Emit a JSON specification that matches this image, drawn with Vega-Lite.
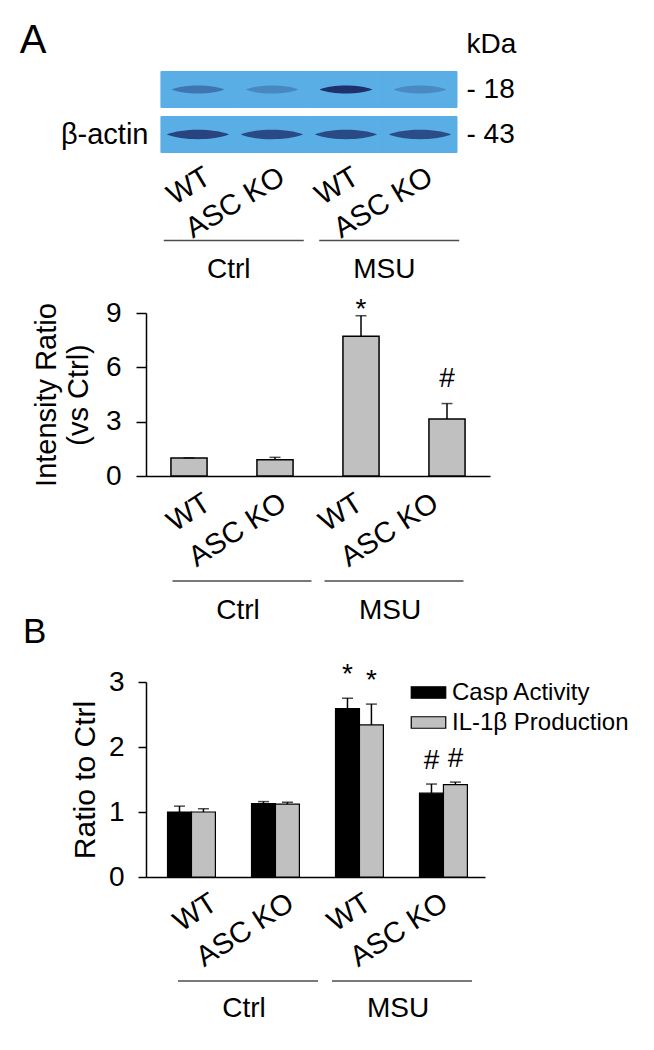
{
  "$schema": "https://vega.github.io/schema/vega-lite/v6.json",
  "padding": {"left": 19, "top": 20, "right": 5, "bottom": 5},
  "background": "white",
  "spacing": 11,
  "resolve": {"legend": {"fill": "independent"}},
  "config": {
    "font": "Liberation Sans",
    "view": {"stroke": null},
    "axis": {"domainColor": "black", "domainWidth": 1.5, "tickColor": "black", "tickWidth": 1.5, "labelColor": "black", "titleColor": "black", "labelFont": "Liberation Sans", "titleFont": "Liberation Sans", "titleFontWeight": "normal", "grid": false},
    "text": {"font": "Liberation Sans", "color": "black"},
    "title": {"font": "Liberation Sans", "fontWeight": "normal", "color": "black"}
  },
  "vconcat": [
    {
      "width": 311,
      "height": 135,
      "layer": [
        {
          "data": {"values": [
            {"lane": "Ctrl|WT", "protein": "target", "intensity": 0.45},
            {"lane": "Ctrl|ASC KO", "protein": "target", "intensity": 0.3},
            {"lane": "MSU|WT", "protein": "target", "intensity": 1.0},
            {"lane": "MSU|ASC KO", "protein": "target", "intensity": 0.28},
            {"lane": "Ctrl|WT", "protein": "β-actin", "intensity": 0.85},
            {"lane": "Ctrl|ASC KO", "protein": "β-actin", "intensity": 0.8},
            {"lane": "MSU|WT", "protein": "β-actin", "intensity": 0.8},
            {"lane": "MSU|ASC KO", "protein": "β-actin", "intensity": 0.78}
          ]},
          "layer": [
            {
              "mark": {"type": "rect", "fill": "#5aaee6", "stroke": "#5aaee6", "strokeWidth": 1},
              "encoding": {
                "x": {"field": "lane", "type": "nominal", "sort": ["Ctrl|WT", "Ctrl|ASC KO", "MSU|WT", "MSU|ASC KO"],
                      "scale": {"paddingInner": 0, "paddingOuter": 0.101, "align": 1},
                      "axis": {"title": null, "labelExpr": "split(datum.value,'|')[1]", "labelAngle": -31, "labelAlign": "right", "labelBaseline": "top", "labelOffset": 3, "labelPadding": 5, "labelFontSize": 29, "ticks": false, "domain": false}},
                "y": {"field": "protein", "type": "nominal",
                      "scale": {"domain": ["kDa", "target", "β-actin"], "paddingInner": 0.2, "paddingOuter": 0.1},
                      "axis": {"orient": "left", "title": null, "labelExpr": "datum.value == 'β-actin' ? 'β-actin' : ''", "labelFontSize": 29, "ticks": false, "domain": false, "labelPadding": -2}}
              }
            },
            {
              "mark": {"type": "point", "shape": "M-1,0C-0.5,-0.2 0.5,-0.2 1,0C0.5,0.2 -0.5,0.2 -1,0Z", "filled": true, "color": "#1c2a66"},
              "encoding": {
                "x": {"field": "lane", "type": "nominal", "sort": ["Ctrl|WT", "Ctrl|ASC KO", "MSU|WT", "MSU|ASC KO"]},
                "y": {"field": "protein", "type": "nominal",
                      "axis": {"orient": "right", "title": null, "labelExpr": "datum.value == 'kDa' ? 'kDa' : datum.value == 'target' ? '- 18' : '- 43'", "labelFontSize": 28, "ticks": false, "domain": false, "labelPadding": 9}},
                "opacity": {"field": "intensity", "type": "quantitative", "scale": {"domain": [0, 1], "range": [0, 0.95]}, "legend": null},
                "size": {"field": "protein", "type": "nominal", "scale": {"domain": ["target", "β-actin"], "range": [2800, 3900]}, "legend": null}
              }
            }
          ],
          "resolve": {"axis": {"y": "independent"}}
        },
        {
          "data": {"values": [{"group": "Ctrl"}, {"group": "MSU"}]},
          "layer": [
            {
              "mark": {"type": "tick", "size": 140, "thickness": 1.5, "color": "black", "xOffset": 10},
              "encoding": {
                "x": {"field": "group", "type": "nominal", "scale": {"type": "band", "paddingInner": 0, "paddingOuter": 0}, "axis": null},
                "y": {"datum": -0.6185, "type": "quantitative", "scale": {"domain": [0, 1]}, "axis": null}
              }
            },
            {
              "mark": {"type": "text", "fontSize": 28, "dx": 5, "baseline": "middle"},
              "encoding": {
                "x": {"field": "group", "type": "nominal", "axis": null},
                "y": {"datum": -0.837, "type": "quantitative", "axis": null},
                "text": {"field": "group"}
              }
            },
            {
              "data": {"values": [{"panel": "A", "group": "Ctrl"}]},
              "mark": {"type": "text", "fontSize": 40, "baseline": "alphabetic", "align": "left", "dx": -204},
              "encoding": {
                "x": {"field": "group", "type": "nominal", "axis": null},
                "y": {"datum": 0.774, "type": "quantitative", "axis": null},
                "text": {"field": "panel"}
              }
            }
          ]
        }
      ],
      "resolve": {"scale": {"x": "independent", "y": "independent"}}
    },
    {
      "width": 344,
      "height": 163,
      "layer": [
        {
          "data": {"values": [
            {"lane": "Ctrl|WT", "value": 1.0, "upper": 1.0, "sig": ""},
            {"lane": "Ctrl|ASC KO", "value": 0.9, "upper": 1.03, "sig": ""},
            {"lane": "MSU|WT", "value": 7.72, "upper": 8.85, "sig": "*"},
            {"lane": "MSU|ASC KO", "value": 3.15, "upper": 4.0, "sig": "#"}
          ]},
          "layer": [
            {
              "mark": {"type": "bar", "fill": "#c0c0c0", "stroke": "black", "strokeWidth": 1.5},
              "encoding": {
                "x": {"field": "lane", "type": "nominal", "sort": ["Ctrl|WT", "Ctrl|ASC KO", "MSU|WT", "MSU|ASC KO"],
                      "scale": {"paddingInner": 0.58, "paddingOuter": 0.29},
                      "axis": {"title": null, "labels": false, "ticks": false, "domain": true}},
                "y": {"field": "value", "type": "quantitative", "scale": {"domain": [0, 9]},
                      "axis": {"title": ["Intensity Ratio", "(vs Ctrl)"], "values": [0, 3, 6, 9], "tickSize": 10, "labelFontSize": 28, "labelPadding": 15, "titleFontSize": 29, "titleLineHeight": 32, "titlePadding": 12}}
              }
            },
            {
              "mark": {"type": "rule", "color": "black", "strokeWidth": 1.5},
              "encoding": {
                "x": {"field": "lane", "type": "nominal", "sort": ["Ctrl|WT", "Ctrl|ASC KO", "MSU|WT", "MSU|ASC KO"]},
                "y": {"field": "value", "type": "quantitative"},
                "y2": {"field": "upper"}
              }
            },
            {
              "mark": {"type": "tick", "color": "black", "thickness": 1.5, "size": 11},
              "encoding": {
                "x": {"field": "lane", "type": "nominal", "sort": ["Ctrl|WT", "Ctrl|ASC KO", "MSU|WT", "MSU|ASC KO"]},
                "y": {"field": "upper", "type": "quantitative"}
              }
            },
            {
              "transform": [{"filter": "datum.sig == '*'"}],
              "mark": {"type": "text", "fontSize": 28, "baseline": "alphabetic", "dy": 2},
              "encoding": {
                "x": {"field": "lane", "type": "nominal", "sort": ["Ctrl|WT", "Ctrl|ASC KO", "MSU|WT", "MSU|ASC KO"]},
                "y": {"field": "upper", "type": "quantitative"},
                "text": {"field": "sig"}
              }
            },
            {
              "transform": [{"filter": "datum.sig == '#'"}],
              "mark": {"type": "text", "fontSize": 28, "baseline": "alphabetic", "dy": -17},
              "encoding": {
                "x": {"field": "lane", "type": "nominal", "sort": ["Ctrl|WT", "Ctrl|ASC KO", "MSU|WT", "MSU|ASC KO"]},
                "y": {"field": "upper", "type": "quantitative"},
                "text": {"field": "sig"}
              }
            }
          ]
        },
        {
          "data": {"values": [{"lane": "Ctrl|ASC KO", "group": "Ctrl"}, {"lane": "MSU|ASC KO", "group": "MSU"}]},
          "layer": [
            {
              "mark": {"type": "tick", "size": 139, "thickness": 1.5, "color": "black", "xOffset": -38},
              "encoding": {
                "x": {"field": "lane", "type": "nominal",
                      "scale": {"type": "band", "domain": ["Ctrl|WT", "Ctrl|ASC KO", "MSU|WT", "MSU|ASC KO"], "paddingInner": 0, "paddingOuter": 0.263},
                      "axis": {"orient": "bottom", "title": null, "labelExpr": "split(datum.value,'|')[1]", "labelAngle": -33, "labelAlign": "right", "labelBaseline": "top", "labelOffset": -4, "labelPadding": 12, "labelFontSize": 29, "ticks": false, "domain": false}},
                "y": {"datum": -5.8, "type": "quantitative"}
              }
            },
            {
              "mark": {"type": "text", "fontSize": 28, "baseline": "middle", "dx": -4},
              "encoding": {
                "x": {"field": "lane", "type": "nominal", "bandPosition": 0},
                "y": {"datum": -7.48, "type": "quantitative"},
                "text": {"field": "group"}
              }
            },
            {
              "data": {"values": [{"panel": "B", "lane": "Ctrl|ASC KO"}]},
              "mark": {"type": "text", "fontSize": 35, "baseline": "alphabetic", "align": "left", "dx": -219},
              "encoding": {
                "x": {"field": "lane", "type": "nominal", "bandPosition": 0},
                "y": {"datum": -9.22, "type": "quantitative"},
                "text": {"field": "panel"}
              }
            }
          ]
        }
      ],
      "resolve": {"scale": {"x": "independent"}}
    },
    {
      "width": 339,
      "height": 195,
      "layer": [
        {
          "data": {"values": [
            {"cond": "Ctrl|WT", "measure": "Casp Activity", "value": 1.0, "upper": 1.09, "sig": ""},
            {"cond": "Ctrl|WT", "measure": "IL-1β Production", "value": 1.0, "upper": 1.05, "sig": ""},
            {"cond": "Ctrl|ASC KO", "measure": "Casp Activity", "value": 1.13, "upper": 1.16, "sig": ""},
            {"cond": "Ctrl|ASC KO", "measure": "IL-1β Production", "value": 1.12, "upper": 1.15, "sig": ""},
            {"cond": "MSU|WT", "measure": "Casp Activity", "value": 2.59, "upper": 2.75, "sig": "*"},
            {"cond": "MSU|WT", "measure": "IL-1β Production", "value": 2.34, "upper": 2.66, "sig": "*"},
            {"cond": "MSU|ASC KO", "measure": "Casp Activity", "value": 1.29, "upper": 1.43, "sig": "#"},
            {"cond": "MSU|ASC KO", "measure": "IL-1β Production", "value": 1.42, "upper": 1.46, "sig": "#"}
          ]},
          "layer": [
            {
              "mark": {"type": "bar", "stroke": "black", "strokeWidth": 1.2},
              "encoding": {
                "x": {"field": "cond", "type": "nominal", "sort": ["Ctrl|WT", "Ctrl|ASC KO", "MSU|WT", "MSU|ASC KO"],
                      "scale": {"paddingInner": 0.43, "paddingOuter": 0.233, "align": 0.55},
                      "axis": {"title": null, "labels": false, "ticks": false, "domain": true}},
                "xOffset": {"field": "measure", "type": "nominal", "sort": ["Casp Activity", "IL-1β Production"]},
                "y": {"field": "value", "type": "quantitative", "scale": {"domain": [0, 3]},
                      "axis": {"title": "Ratio to Ctrl", "values": [0, 1, 2, 3], "format": "d", "tickSize": 8, "labelFontSize": 28, "labelPadding": 14, "titleFontSize": 30, "titlePadding": 8}},
                "fill": {"field": "measure", "type": "nominal",
                         "scale": {"domain": ["Casp Activity", "IL-1β Production"], "range": ["black", "#c0c0c0"]},
                         "legend": {"orient": "none", "legendX": 270, "legendY": -2, "title": null, "symbolType": "M-1.5,-0.5H1.5V0.5H-1.5Z", "symbolSize": 529, "symbolStrokeColor": "black", "symbolStrokeWidth": 1.2, "labelFontSize": 24, "labelOffset": 11, "labelLimit": 0, "rowPadding": 5, "padding": 0, "labelFont": "Liberation Sans", "labelColor": "black"}}
              }
            },
            {
              "mark": {"type": "rule", "color": "black", "strokeWidth": 1.5},
              "encoding": {
                "x": {"field": "cond", "type": "nominal", "sort": ["Ctrl|WT", "Ctrl|ASC KO", "MSU|WT", "MSU|ASC KO"]},
                "xOffset": {"field": "measure", "type": "nominal", "sort": ["Casp Activity", "IL-1β Production"]},
                "y": {"field": "value", "type": "quantitative"},
                "y2": {"field": "upper"}
              }
            },
            {
              "mark": {"type": "tick", "color": "black", "thickness": 1.5, "size": 11},
              "encoding": {
                "x": {"field": "cond", "type": "nominal", "sort": ["Ctrl|WT", "Ctrl|ASC KO", "MSU|WT", "MSU|ASC KO"]},
                "xOffset": {"field": "measure", "type": "nominal", "sort": ["Casp Activity", "IL-1β Production"]},
                "y": {"field": "upper", "type": "quantitative"}
              }
            },
            {
              "transform": [{"filter": "datum.sig != ''"}],
              "mark": {"type": "text", "fontSize": 28, "baseline": "alphabetic", "dy": -15},
              "encoding": {
                "x": {"field": "cond", "type": "nominal", "sort": ["Ctrl|WT", "Ctrl|ASC KO", "MSU|WT", "MSU|ASC KO"]},
                "xOffset": {"field": "measure", "type": "nominal", "sort": ["Casp Activity", "IL-1β Production"]},
                "y": {"field": "upper", "type": "quantitative"},
                "text": {"field": "sig"}
              }
            }
          ]
        },
        {
          "data": {"values": [{"lane": "Ctrl|ASC KO", "group": "Ctrl"}, {"lane": "MSU|ASC KO", "group": "MSU"}]},
          "layer": [
            {
              "mark": {"type": "tick", "size": 140, "thickness": 1.5, "color": "black", "xOffset": -38.5},
              "encoding": {
                "x": {"field": "lane", "type": "nominal",
                      "scale": {"type": "band", "domain": ["Ctrl|WT", "Ctrl|ASC KO", "MSU|WT", "MSU|ASC KO"], "paddingInner": 0, "paddingOuter": 0.2013, "align": 0.806},
                      "axis": {"orient": "bottom", "title": null, "labelExpr": "split(datum.value,'|')[1]", "labelAngle": -33, "labelAlign": "right", "labelBaseline": "top", "labelOffset": -3, "labelPadding": 11, "labelFontSize": 29, "ticks": false, "domain": false}},
                "y": {"datum": -1.6, "type": "quantitative"}
              }
            },
            {
              "mark": {"type": "text", "fontSize": 28, "baseline": "middle", "dx": -4},
              "encoding": {
                "x": {"field": "lane", "type": "nominal", "bandPosition": 0},
                "y": {"datum": -2.03, "type": "quantitative"},
                "text": {"field": "group"}
              }
            }
          ]
        }
      ],
      "resolve": {"scale": {"x": "independent"}}
    }
  ]
}
